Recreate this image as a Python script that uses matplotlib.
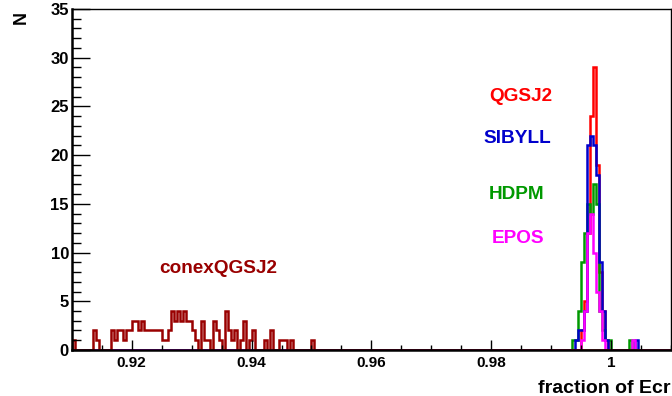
import numpy as np
import matplotlib
matplotlib.use("Agg")
import matplotlib.pyplot as plt
from matplotlib.ticker import MultipleLocator, FuncFormatter

plt.rcParams['font.family'] = ['Liberation Sans', 'DejaVu Sans']
plt.rcParams['font.weight'] = 'bold'

# binning of the histograms
bin_lo = 0.91
bin_width = 0.0005
n_bins = 200

# counts per bin, each list starts at the given bin value
qgsj2_start = 0.9950
qgsj2_counts = [2, 5, 12, 24, 29, 19, 8, 4, 1]

sibyll_start = 0.9940
sibyll_counts = [1, 2, 2, 4, 21, 22, 21, 18, 9, 4, 1, 0, 0, 0, 0, 0, 0, 0, 0, 0, 1]

hdpm_start = 0.9935
hdpm_counts = [1, 1, 4, 9, 12, 15, 14, 17, 15, 4, 2, 1, 1, 0, 0, 0, 0, 0, 0, 1]

epos_start = 0.9950
epos_counts = [1, 4, 12, 14, 10, 6, 4, 1, 0, 0, 0, 0, 0, 0, 0, 0, 0, 1]

conex_start = 0.9100
conex_counts = [1, 0, 0, 0, 0, 0, 0, 2, 1, 0, 0, 0, 0, 2, 1, 2, 2, 1, 2, 2,
                3, 3, 2, 3, 2, 2, 2, 2, 2, 2, 1, 1, 2, 4, 3, 4, 3, 4, 3, 3,
                2, 1, 0, 3, 1, 1, 0, 3, 2, 1, 0, 4, 2, 1, 2, 0, 1, 3, 0, 1,
                2, 0, 0, 0, 1, 0, 2, 0, 0, 1, 1, 1, 0, 1, 0, 0, 0, 0, 0, 0, 1]

labels = ["QGSJ2", "SIBYLL", "HDPM", "EPOS", "conexQGSJ2"]
colors = ["#ff0000", "#0000cc", "#009900", "#ff00ff", "#990000"]
starts = [qgsj2_start, sibyll_start, hdpm_start, epos_start, conex_start]
counts = [qgsj2_counts, sibyll_counts, hdpm_counts, epos_counts, conex_counts]
# label positions (x, y) in data units
label_pos = [(0.9850, 26.0), (0.98435, 21.7), (0.98422, 16.0), (0.98452, 11.4), (0.93452, 8.4)]

edges = bin_lo + bin_width * np.arange(n_bins + 1)


def full_hist(start, vals):
    h = np.zeros(n_bins)
    i0 = int(round((start - bin_lo) / bin_width))
    h[i0:i0 + len(vals)] = vals
    return h


fig = plt.figure(figsize=(6.72, 3.96), dpi=100)
ax = fig.add_axes([0.1067, 0.1162, 0.8920, 0.8611])

# draw order: red, green, blue, magenta, conex on top
for k in [0, 2, 1, 3, 4]:
    ax.stairs(full_hist(starts[k], counts[k]), edges, color=colors[k], lw=1.8)

for k in range(len(labels)):
    ax.text(label_pos[k][0], label_pos[k][1], labels[k], color=colors[k],
            fontsize=13.7, fontweight='bold', ha='center', va='center')

ax.set_xlim(0.91, 1.01)
ax.set_ylim(0, 35)

ax.xaxis.set_major_locator(MultipleLocator(0.02))
ax.xaxis.set_minor_locator(MultipleLocator(0.005))
ax.yaxis.set_major_locator(MultipleLocator(5))
ax.yaxis.set_minor_locator(MultipleLocator(1))
ax.xaxis.set_major_formatter(FuncFormatter(lambda v, p: "%g" % round(v, 4)))

ax.tick_params(axis='x', which='major', direction='in', length=7.2, width=1, pad=4, labelsize=11)
ax.tick_params(axis='x', which='minor', direction='in', length=3.6, width=1)
ax.tick_params(axis='y', which='major', direction='in', length=13, width=1, pad=2, labelsize=12)
ax.tick_params(axis='y', which='minor', direction='in', length=6.5, width=1)
for t in ax.get_xticklabels() + ax.get_yticklabels():
    t.set_fontweight('bold')

for s in ['left', 'bottom']:
    ax.spines[s].set_linewidth(1.8)
for s in ['top', 'right']:
    ax.spines[s].set_linewidth(1.0)

fig.text(670 / 672, 1 - 392.7 / 396, "fraction of Ecr", fontsize=14,
         fontweight='bold', ha='right', va='baseline')
fig.text(21 / 672, 1 - 17 / 396, "N", fontsize=13, fontweight='bold',
         rotation=90, ha='center', va='center')

fig.savefig("out.png", dpi=100)
